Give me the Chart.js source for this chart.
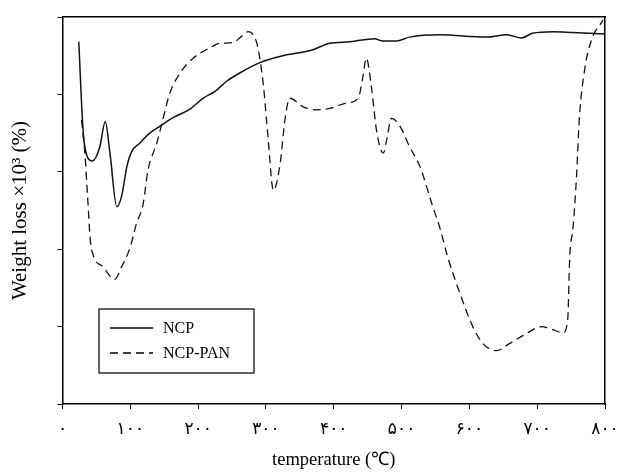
<!DOCTYPE html>
<html>
<head>
<meta charset="utf-8">
<script src="https://cdn.jsdelivr.net/npm/chart.js@4/dist/chart.umd.min.js"></script>
<style>
  html, body { margin: 0; padding: 0; background: #fff; }
  #wrap { width: 617px; height: 474px; }
</style>
</head>
<body>
<div id="wrap"><canvas id="tgaChart" width="617" height="474"></canvas></div>
<script>
// temperature (C) / weight loss
var ncpTemp = [24, 30, 33, 44, 55, 63, 70, 80, 87, 95, 102, 114, 126, 144, 163, 188, 207, 225, 242, 262, 291, 325, 367, 394, 424, 460, 472, 492, 512, 556, 625, 655, 677, 693, 723, 752, 800];
var ncpLoss = [4.68, 3.58, 3.32, 3.14, 3.32, 3.65, 3.24, 2.55, 2.68, 3.07, 3.26, 3.37, 3.48, 3.59, 3.70, 3.81, 3.95, 4.04, 4.17, 4.28, 4.41, 4.50, 4.57, 4.66, 4.68, 4.72, 4.69, 4.69, 4.74, 4.77, 4.74, 4.77, 4.73, 4.79, 4.81, 4.80, 4.78];

var panTemp = [28, 33, 37, 41, 45, 60, 77, 87, 100, 109, 119, 126, 139, 149, 158, 173, 193, 217, 232, 252, 264, 274, 286, 290, 296, 303, 311, 321, 328, 335, 355, 375, 394, 419, 436, 443, 448, 456, 463, 473, 478, 485, 497, 512, 527, 546, 556, 568, 586, 605, 620, 640, 659, 684, 706, 723, 738, 745, 748, 753, 758, 762, 770, 780, 797];
var panLoss = [3.67, 3.24, 2.68, 2.12, 1.93, 1.77, 1.61, 1.77, 2.03, 2.33, 2.59, 3.02, 3.37, 3.71, 4.01, 4.27, 4.47, 4.60, 4.66, 4.67, 4.75, 4.81, 4.68, 4.51, 4.14, 3.45, 2.76, 3.11, 3.67, 3.95, 3.84, 3.80, 3.82, 3.89, 3.95, 4.23, 4.47, 4.06, 3.54, 3.24, 3.41, 3.69, 3.60, 3.32, 3.07, 2.55, 2.29, 1.90, 1.43, 1.00, 0.78, 0.69, 0.78, 0.91, 1.00, 0.96, 0.92, 1.09, 1.90, 2.29, 2.94, 3.67, 4.32, 4.70, 4.96];

var xTickLabels = ["۰", "۱۰۰", "۲۰۰", "۳۰۰", "۴۰۰", "۵۰۰", "۶۰۰", "۷۰۰", "۸۰۰"];
var seriesNames = ["NCP", "NCP-PAN"];

function toPoints(xs, ys) {
  var pts = [];
  for (var i = 0; i < xs.length; i++) pts.push({ x: xs[i], y: ys[i] });
  return pts;
}

var serif = "'Liberation Serif', 'Times New Roman', serif";

// legend box drawn inside the plot, lower left
var boxLegend = {
  id: "boxLegend",
  afterDraw: function (chart) {
    var c = chart.ctx;
    var sets = chart.data.datasets;
    c.save();
    c.strokeStyle = "#000";
    c.lineWidth = 1.2;
    c.strokeRect(99, 309, 155, 64);
    c.font = "16px " + serif;
    c.fillStyle = "#000";
    c.textBaseline = "middle";
    for (var i = 0; i < sets.length; i++) {
      var y = 328 + i * 25;
      c.beginPath();
      c.setLineDash(sets[i].borderDash || []);
      c.lineWidth = sets[i].borderWidth;
      c.moveTo(110, y);
      c.lineTo(153, y);
      c.stroke();
      c.setLineDash([]);
      c.fillText(sets[i].label, 163, y + 1);
    }
    c.restore();
  }
};

var ctx = document.getElementById("tgaChart");
var chart = new Chart(ctx, {
  type: "line",
  data: {
    datasets: [
      {
        label: seriesNames[0],
        data: toPoints(ncpTemp, ncpLoss),
        borderColor: "#111",
        borderWidth: 1.5,
        pointRadius: 0,
        fill: false,
        cubicInterpolationMode: "monotone"
      },
      {
        label: seriesNames[1],
        data: toPoints(panTemp, panLoss),
        borderColor: "#111",
        borderWidth: 1.3,
        borderDash: [8, 5],
        pointRadius: 0,
        fill: false,
        cubicInterpolationMode: "monotone"
      }
    ]
  },
  options: {
    responsive: false,
    animation: false,
    layout: { padding: { left: 4, right: 12, top: 17, bottom: 3 } },
    plugins: {
      legend: { display: false },
      tooltip: { enabled: false }
    },
    scales: {
      x: {
        type: "linear",
        position: "bottom",
        min: 0,
        max: 800,
        afterFit: function (s) { s.height = 67; s.paddingLeft = 0; s.paddingRight = 0; },
        ticks: {
          stepSize: 100,
          maxRotation: 0,
          padding: 10,
          color: "#000",
          font: { size: 17, family: "'DejaVu Sans', sans-serif" },
          callback: function (v, i) { return xTickLabels[i]; }
        },
        grid: { drawOnChartArea: false, drawTicks: true, tickLength: 5, color: "#000" },
        border: { display: true, color: "#000", width: 1.5 },
        title: {
          display: true,
          text: "temperature (℃)",
          color: "#000",
          font: { size: 18.5, family: serif },
          padding: { top: 4, bottom: 0 }
        }
      },
      y: {
        type: "linear",
        position: "left",
        min: 0,
        max: 5,
        afterFit: function (s) { s.width = 58.5; },
        ticks: {
          stepSize: 1,
          padding: 0,
          callback: function () { return ""; }
        },
        grid: { drawOnChartArea: false, drawTicks: true, tickLength: 5, color: "#000" },
        border: { display: true, color: "#000", width: 1.5 },
        title: {
          display: true,
          text: "Weight loss ×10³ (%)",
          color: "#000",
          font: { size: 21, family: serif },
          padding: { top: 4, bottom: 0 }
        }
      },
      xTop: {
        type: "linear",
        position: "top",
        min: 0,
        max: 800,
        afterFit: function (s) { s.height = 0; },
        ticks: { display: false },
        grid: { drawOnChartArea: false, drawTicks: false },
        border: { display: true, color: "#000", width: 1.5 }
      },
      yRight: {
        type: "linear",
        position: "right",
        min: 0,
        max: 5,
        afterFit: function (s) { s.width = 0; },
        ticks: { display: false },
        grid: { drawOnChartArea: false, drawTicks: false },
        border: { display: true, color: "#000", width: 1.5 }
      }
    }
  },
  plugins: [boxLegend]
});
</script>
</body>
</html>
